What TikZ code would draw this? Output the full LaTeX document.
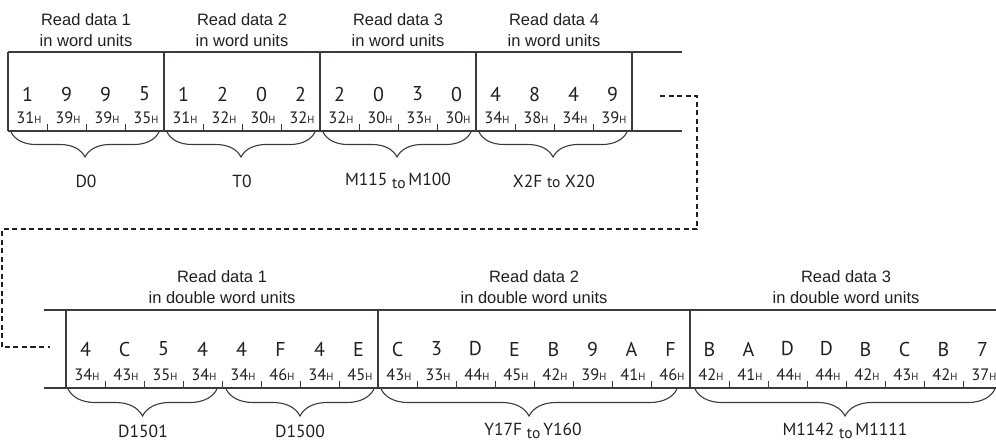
\documentclass[tikz,border=0pt]{standalone}
\usepackage{fontspec}
\setmainfont{PT Sans}
\newfontfamily\headfont{Liberation Sans}
\usetikzlibrary{decorations.pathreplacing}
\definecolor{inkgray}{RGB}{35,31,32}
\definecolor{linegray}{RGB}{62,58,57}

% hex value with small H
\newcommand{\hx}[1]{#1{\fontsize{10.5}{10.5}\selectfont H}}
% small lowered "to"
\newcommand{\tow}{\raisebox{-0.3ex}{\fontsize{15.5}{15.5}\selectfont to}}

\tikzset{
  cellline/.style={linegray, line width=1.2pt},
  digit/.style={font=\fontsize{20}{20}\selectfont, text=inkgray, inner sep=0pt},
  hexval/.style={font=\fontsize{16.5}{16.5}\selectfont, text=inkgray, inner sep=0pt},
  heading/.style={font=\headfont\fontsize{16.5}{21}\selectfont, text=inkgray, align=center, inner sep=0pt},
  devlabel/.style={font=\fontsize{17.5}{17.5}\selectfont, text=inkgray, inner sep=0pt},
  devbrace/.style={linegray, line width=1.1pt, decorate,
    decoration={brace, mirror, amplitude=#1}},
  devbrace/.default=25pt,
  contline/.style={inkgray, line width=2.6pt, dash pattern=on 5pt off 3.5pt}
}

\begin{document}
\begin{tikzpicture}[x=1pt, y=-1pt]
        \useasboundingbox (0,0) rectangle (996,445);

        % word units row
        \draw[cellline] (8,52) -- (682,52);
        \draw[cellline] (8,131) -- (682,131);
        \foreach \x in {8,164,320,476,632}
            \draw[cellline] (\x,52) -- (\x,131);
        \foreach \x/\n/\dev/\vals in {
            8/1/{D0}/{1/31,9/39,9/39,5/35},
            164/2/{T0}/{1/31,2/32,0/30,2/32},
            320/3/{M115 \tow\,M100}/{2/32,0/30,3/33,0/30},
            476/4/{X2F {\fontsize{15.5}{15.5}\selectfont to} X20}/{4/34,8/38,4/34,9/39}}
        {
            \node[heading] (wh\n) at (\x+78,30) {Read data \n\\in word units};
            \foreach \d/\h [count=\k from 0] in \vals {
                \node[digit] (wd\n-\k) at (\x+19.5+39*\k,94) {\d};
                \node[hexval, anchor=base] (wx\n-\k) at (\x+21+39*\k,123.5) {\hx{\h}};
            }
            \foreach \k in {1,2,3}
                \draw[cellline, line width=1pt] (\x+39*\k,131) -- (\x+39*\k,124);
            \draw[devbrace] (\x+3,132) -- (\x+151,132);
            \node[devlabel] (wl\n) at (\x+78,181) {\dev};
        }

        % continuation
        \coordinate (topend) at (660,96);
        \coordinate (botend) at (50,347);
        \draw[contline] (topend) -- (697,96) |- (2,229) |- (botend);

        % double word units row
        \draw[cellline] (44,310) -- (996,310);
        \draw[cellline] (44,388) -- (996,388);
        \foreach \x in {66,378,690}
            \draw[cellline] (\x,310) -- (\x,388);
        \foreach \x/\n/\vals in {
            66/1/{4/34,C/43,5/35,4/34,4/34,F/46,4/34,E/45},
            378/2/{C/43,3/33,D/44,E/45,B/42,9/39,A/41,F/46},
            690/3/{B/42,A/41,D/44,D/44,B/42,C/43,B/42,7/37}}
        {
            \node[heading] (dh\n) at (\x+156,287) {Read data \n\\in double word units};
            \foreach \d/\h [count=\k from 0] in \vals {
                \node[digit] (dd\n-\k) at (\x+19.5+39*\k,349) {\d};
                \node[hexval, anchor=base] (dx\n-\k) at (\x+21+39*\k,380.5) {\hx{\h}};
            }
            \foreach \k in {1,...,7}
                \draw[cellline, line width=1pt] (\x+39*\k,388) -- (\x+39*\k,381);
        }

        % device braces
        \draw[devbrace=27pt] (68,389) -- (217,389);
        \node[devlabel] (dl1a) at (143,431) {D1501};
        \draw[devbrace=27pt] (226,389) -- (374,389);
        \node[devlabel] (dl1b) at (300,431) {D1500};
        \draw[devbrace=27pt] (381,389) -- (677,389);
        \node[devlabel] (dl2) at (533,431) {Y17F \tow\,Y160};
        \draw[devbrace=27pt] (695,389) -- (995,389);
        \node[devlabel] (dl3) at (845,431) {M1142 \tow\,M1111};
    \end{tikzpicture}
\end{document}
